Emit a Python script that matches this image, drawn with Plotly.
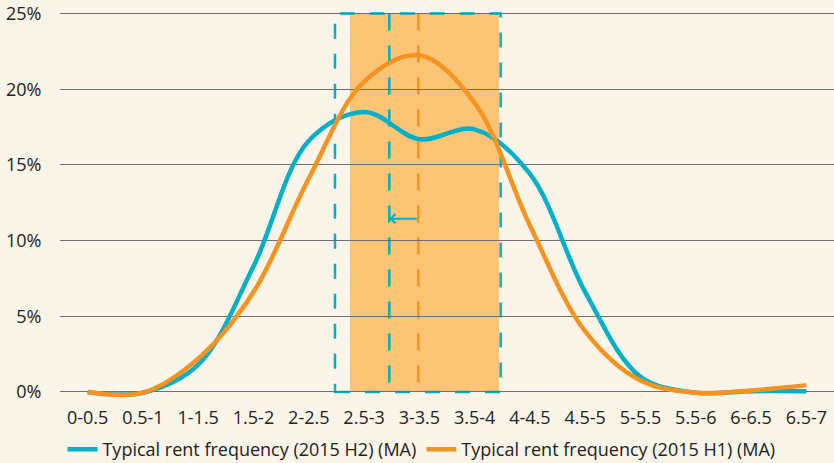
import plotly.graph_objects as go

categories = ["0-0.5", "0.5-1", "1-1.5", "1.5-2", "2-2.5", "2.5-3", "3-3.5",
              "3.5-4", "4-4.5", "4.5-5", "5-5.5", "5.5-6", "6-6.5", "6.5-7"]
h2_values = [0.0, -0.05, 1.8, 8.3, 16.6, 18.5, 16.7, 17.35, 14.4, 6.6, 1.0, -0.05, 0.05, 0.05]
h1_values = [0.0, -0.05, 2.2, 6.6, 14.1, 20.5, 22.25, 19.1, 11.0, 4.0, 0.75, -0.05, 0.1, 0.45]
h2_name = "Typical rent frequency (2015 H2) (MA)"
h1_name = "Typical rent frequency (2015 H1) (MA)"
y_ticks = [0, 5, 10, 15, 20, 25]
y_tick_text = [f"{v}%" for v in y_ticks]

# annotation geometry in category-index units
shade_x = (4.745, 7.44)
box_x = (4.474, 7.47)
h2_mark_x = 5.456
h1_mark_x = 5.98
arrow_y = 11.45
box_top = 25

TEAL = "#00AFC8"
ORANGE = "#F7931E"
SHADE = "#FCC576"
BG = "#FAF4E9"
GRID = "#707070"
TEXT = "#222222"
FONT = "Open Sans"

fig = go.Figure()
fig.add_trace(go.Scatter(x=categories, y=h2_values, name=h2_name, mode="lines",
                         line=dict(color=TEAL, width=4.5, shape="spline", smoothing=1.0)))
fig.add_trace(go.Scatter(x=categories, y=h1_values, name=h1_name, mode="lines",
                         line=dict(color=ORANGE, width=4.5, shape="spline", smoothing=1.0)))

fig.add_shape(type="rect", xref="x", yref="y", x0=shade_x[0], x1=shade_x[1], y0=0, y1=box_top,
              fillcolor=SHADE, line=dict(width=0), layer="below")
fig.add_shape(type="rect", xref="x", yref="y", x0=box_x[0], x1=box_x[1], y0=0, y1=box_top,
              fillcolor="rgba(0,0,0,0)", line=dict(color=TEAL, width=2.5, dash="15px,15px"),
              layer="below")
fig.add_shape(type="line", xref="x", yref="y", x0=h2_mark_x, x1=h2_mark_x, y0=box_top, y1=0,
              line=dict(color=TEAL, width=2.5, dash="17px,15px"), layer="below")
fig.add_shape(type="line", xref="x", yref="y", x0=h1_mark_x, x1=h1_mark_x, y0=box_top, y1=0,
              line=dict(color=ORANGE, width=2.5, dash="17px,15px"), layer="below")
fig.add_annotation(x=h2_mark_x, y=arrow_y, ax=h1_mark_x, ay=arrow_y, xref="x", yref="y",
                   axref="x", ayref="y", text="", showarrow=True, arrowhead=4,
                   arrowsize=0.9, arrowwidth=2, arrowcolor=TEAL)

fig.update_layout(
    width=834, height=463,
    margin=dict(l=60, r=0, t=8.75, b=64.6, pad=0, autoexpand=False),
    paper_bgcolor=BG, plot_bgcolor=BG,
    font=dict(family=FONT, size=18, color=TEXT),
    showlegend=True,
    legend=dict(orientation="h", x=0.467, xanchor="center", y=-0.1325, yanchor="middle",
                font=dict(size=18, color=TEXT), bgcolor="rgba(0,0,0,0)",
                itemwidth=30, traceorder="normal"),
    xaxis=dict(type="category", range=[-0.5, 13.5], showgrid=False, zeroline=False,
               showline=False, ticks="outside", ticklen=3, tickcolor="rgba(0,0,0,0)",
               tickfont=dict(size=18, color=TEXT), fixedrange=True, automargin=False),
    yaxis=dict(range=[-0.4, 25.3], tickmode="array", tickvals=y_ticks, ticktext=y_tick_text,
               showgrid=True,
               gridcolor=GRID, gridwidth=1, zeroline=True, zerolinecolor=GRID, zerolinewidth=1,
               showline=False, ticks="outside", ticklen=14, tickcolor="rgba(0,0,0,0)",
               tickfont=dict(size=18, color=TEXT), fixedrange=True, automargin=False),
)

fig.write_html("out.html")
